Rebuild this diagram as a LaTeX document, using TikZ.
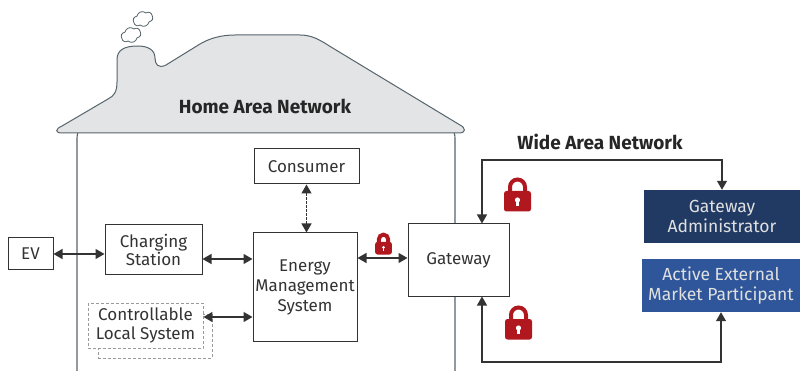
\documentclass[tikz,border=0pt]{standalone}
\usepackage{fontspec}
\setmainfont{Fira Sans}
\usetikzlibrary{arrows.meta,shapes.symbols,calc}
\definecolor{ink}{HTML}{333333}
\definecolor{wall}{HTML}{56646C}
\definecolor{roof}{HTML}{E3E4E6}
\definecolor{lockred}{HTML}{B0171F}
\definecolor{navy}{HTML}{213A63}
\definecolor{midblue}{HTML}{2F569A}
\definecolor{dashgray}{HTML}{9A9A9A}
\newcommand{\boxfont}{\fontsize{17}{20}\selectfont}
\tikzset{
  box/.style={draw=ink, fill=white, line width=1pt, align=center, inner sep=0pt,
    text=ink, font=\boxfont},
  bluebox/.style={fill=#1, align=center, inner sep=0pt, text=white!88!black,
    font=\fontsize{17.5}{20}\selectfont},
  dashbox/.style={draw=dashgray, dashed, dash pattern=on 3pt off 2pt, fill=white, line width=0.9pt},
  link/.style={draw=ink, line width=1.2pt, {Triangle[length=9pt,width=10pt]}-{Triangle[length=9pt,width=10pt]}},
  title/.style={text=black!85, font=\fontsize{19}{22}\selectfont\bfseries},
  pics/lock/.style={code={
    \draw[lockred, line width=4pt] (-7.5,-7) -- (-7.5,-14) arc(180:360:7.5) -- (7.5,-7);
    \fill[lockred, rounded corners=2.5pt] (-13.5,-10) rectangle (13.5,10.5);
    \fill[white] (0,-1) circle (2.6);
    \fill[white] (-1.2,0) rectangle (1.2,5);
  }},
  puff/.style={cloud, cloud puffs=6, cloud puff arc=120, aspect=1.3, draw=wall,
    line width=0.8pt, fill=white, minimum width=20pt, minimum height=15pt, inner sep=0pt}
}
\begin{document}
\begin{tikzpicture}[x=1pt, y=-1pt]
\useasboundingbox (0,0) rectangle (800,371);
\clip (0,0) rectangle (800,371);

% house walls
\draw[wall, line width=1.1pt, rounded corners=18pt] (77,120) rectangle (455,392);

% roof with chimney
\draw[wall, fill=roof, line width=1pt]
  (62,133) -- (459,133) .. controls (466,133) and (466,128) .. (460,125)
  -- (331,47) .. controls (320,40) and (312,35) .. (300,35)
  -- (235,35) .. controls (222,35) and (210,38) .. (200,44)
  -- (166,65) .. controls (158,69) and (155,64) .. (155,58)
  .. controls (155,50) and (148,46) .. (138,46)
  .. controls (124,46) and (117,50) .. (117,60)
  -- (117,82) .. controls (117,92) and (114,96) .. (108,99)
  -- (62,126) .. controls (55,129) and (55,133) .. (62,133) -- cycle;

% smoke
\node[puff, rotate=20] (smokeA) at (131,35) {};
\node[puff, rotate=20] (smokeB) at (143,19) {};

\node[title] (han) at (265,106) {Home Area Network};
\node[title] (wan) at (600,142) {Wide Area Network};

% devices inside the home
\node[box, minimum width=45pt, minimum height=32pt] (ev) at (30.5,254) {EV};
\node[box, minimum width=97pt, minimum height=50pt] (cs) at (153.5,249.5) {Charging\\[-2pt]Station};
\node[dashbox, minimum width=114pt, minimum height=44pt] (clsback) at (155,336) {};
\node[dashbox, minimum width=115pt, minimum height=42pt] (cls) at (145.5,326)
  {\color{ink}\boxfont\begin{tabular}{@{}c@{}}Controllable\\[-1pt]Local System\end{tabular}};
\node[box, minimum width=104pt, minimum height=108pt] (ems) at (305,287) {Energy\\Management\\System};
\node[box, minimum width=105pt, minimum height=35pt] (con) at (306.5,166.5) {Consumer};
\node[box, minimum width=101pt, minimum height=72pt] (gw) at (458.5,260) {Gateway};

% external parties
\node[bluebox=navy, minimum width=156pt, minimum height=53pt] (ga) at (722,216.5) {Gateway\\Administrator};
\node[bluebox=midblue, minimum width=158pt, minimum height=53pt] (aemp) at (721,285.5) {Active External\\Market Participant};

% local links
\draw[link] (ev.east) -- (cs.west |- ev.east);
\draw[link] (cs.east |- 0,259) -- (ems.west |- 0,259);
\draw[link] (cls.east |- 0,317) -- (ems.west |- 0,317);
\draw[link, dash pattern=on 2.5pt off 1.5pt] (con.south) -- (ems.north -| con.south);
\draw[link] (ems.east |- 0,258) -- (gw.west |- 0,258);

% wide area links
\coordinate (wtop) at (482,160);
\coordinate (wbot) at (482,362);
\draw[link] (gw.north -| wtop) -- (wtop) -- (wtop -| ga.north) -- (ga.north);
\draw[link] (gw.south -| wbot) -- (wbot) -- (wbot -| aemp.south) -- (aemp.south);

% locks
\pic[scale=0.62] at (383.5,248) {lock};
\pic at (517.5,201) {lock};
\pic at (518.5,329) {lock};
\end{tikzpicture}
\end{document}
